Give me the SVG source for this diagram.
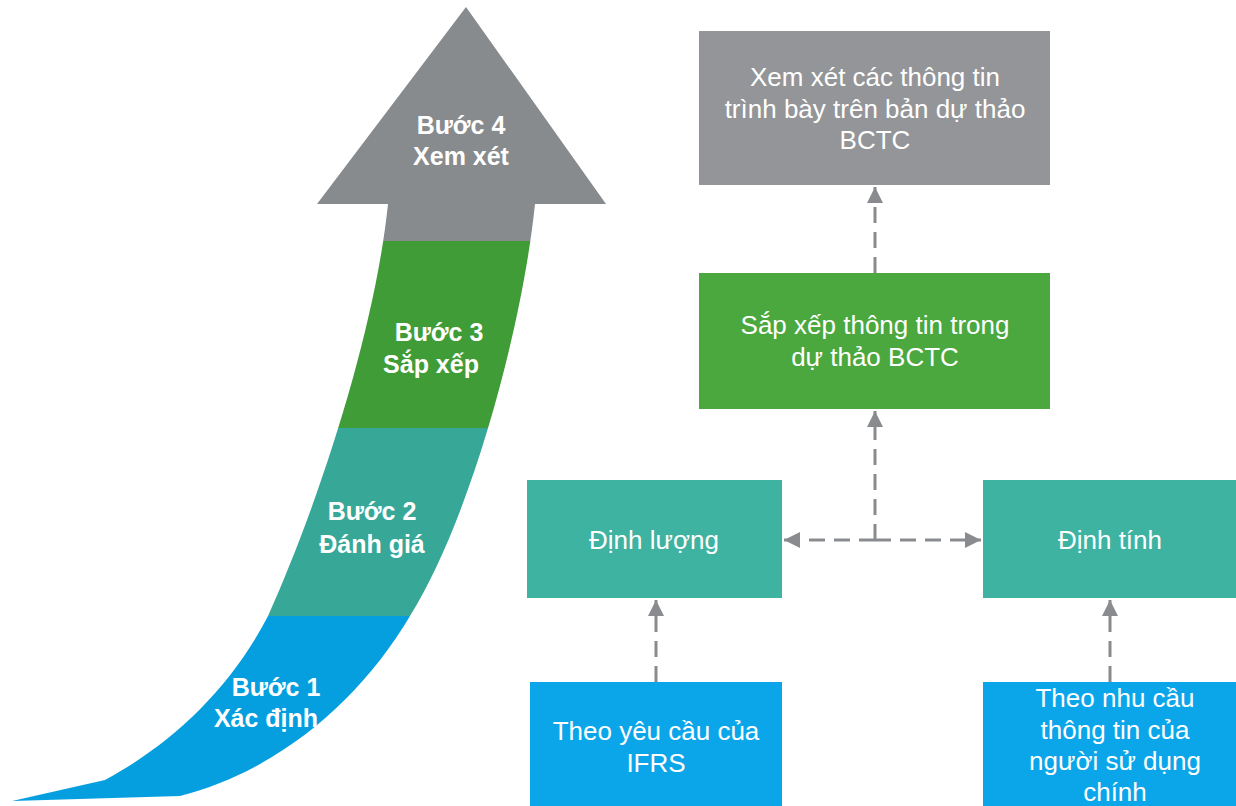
<svg xmlns="http://www.w3.org/2000/svg" width="1236" height="806" viewBox="0 0 1236 806">
<style>
.box text{font-family:"Liberation Sans",Arial,sans-serif;font-size:26px;fill:#fff;text-anchor:middle}
.step text{font-family:"Liberation Sans",Arial,sans-serif;font-size:25px;font-weight:bold;fill:#fff;text-anchor:middle}
.conn{fill:none;stroke:#898b8e;stroke-width:3;stroke-dasharray:16 9}
</style>
<defs>
<marker id="ah" viewBox="0 0 10 10" refX="10" refY="5" markerWidth="16" markerHeight="18" markerUnits="userSpaceOnUse" orient="auto-start-reverse">
<path d="M0,0 L10,5 L0,10 Z" fill="#898b8e"/>
</marker>
<clipPath id="arrowClip">
<path d="M466,7 L606,204 L535,204 C522,330 470,520 410,616 C360,700 280,770 180,796 L12,801 L105,780 C170,745 230,690 268,616 C320,500 375,330 388,204 L317,204 Z"/>
</clipPath>
</defs>
<rect width="1236" height="806" fill="#fff"/>
<g id="bigArrow" clip-path="url(#arrowClip)">
<rect x="0" y="0" width="620" height="241" fill="#888b8d"/>
<rect x="0" y="241" width="620" height="187" fill="#3f9c36"/>
<rect x="0" y="428" width="620" height="188" fill="#37a897"/>
<rect x="0" y="616" width="620" height="190" fill="#059fdf"/>
</g>
<g id="step4" class="step"><text x="461" y="134">Bước 4</text><text x="461" y="165">Xem xét</text></g>
<g id="step3" class="step"><text x="439" y="341">Bước 3</text><text x="431" y="373">Sắp xếp</text></g>
<g id="step2" class="step"><text x="372" y="520">Bước 2</text><text x="372" y="553">Đánh giá</text></g>
<g id="step1" class="step"><text x="276" y="696">Bước 1</text><text x="266" y="727">Xác định</text></g>

<g id="connectors">
<path class="conn" d="M875,273 L875,187" marker-end="url(#ah)"/>
<path class="conn" d="M875,540 L875,411" marker-end="url(#ah)"/>
<path class="conn" d="M875,540 L784,540" marker-end="url(#ah)"/>
<path class="conn" d="M875,540 L981,540" marker-end="url(#ah)"/>
<path class="conn" d="M656,682 L656,600" marker-end="url(#ah)"/>
<path class="conn" d="M1110,682 L1110,600" marker-end="url(#ah)"/>
</g>

<g id="review" class="box">
<rect x="699" y="31" width="351" height="154" fill="#939598"/>
<text x="875" y="86">Xem xét các thông tin</text>
<text x="875" y="118">trình bày trên bản dự thảo</text>
<text x="875" y="149">BCTC</text>
</g>
<g id="arrange" class="box">
<rect x="699" y="273" width="351" height="136" fill="#4aa83e"/>
<text x="875" y="334">Sắp xếp thông tin trong</text>
<text x="875" y="366">dự thảo BCTC</text>
</g>
<g id="quant" class="box">
<rect x="527" y="480" width="255" height="118" fill="#3eb3a1"/>
<text x="654" y="549">Định lượng</text>
</g>
<g id="qual" class="box">
<rect x="983" y="480" width="253" height="118" fill="#3eb3a1"/>
<text x="1110" y="549">Định tính</text>
</g>
<g id="ifrs" class="box">
<rect x="530" y="682" width="252" height="124" fill="#0ba6ea"/>
<text x="656" y="740">Theo yêu cầu của</text>
<text x="656" y="772">IFRS</text>
</g>
<g id="users" class="box">
<rect x="983" y="682" width="253" height="124" fill="#0ba6ea"/>
<text x="1115" y="707">Theo nhu cầu</text>
<text x="1115" y="739">thông tin của</text>
<text x="1115" y="770">người sử dụng</text>
<text x="1115" y="801">chính</text>
</g>
</svg>
